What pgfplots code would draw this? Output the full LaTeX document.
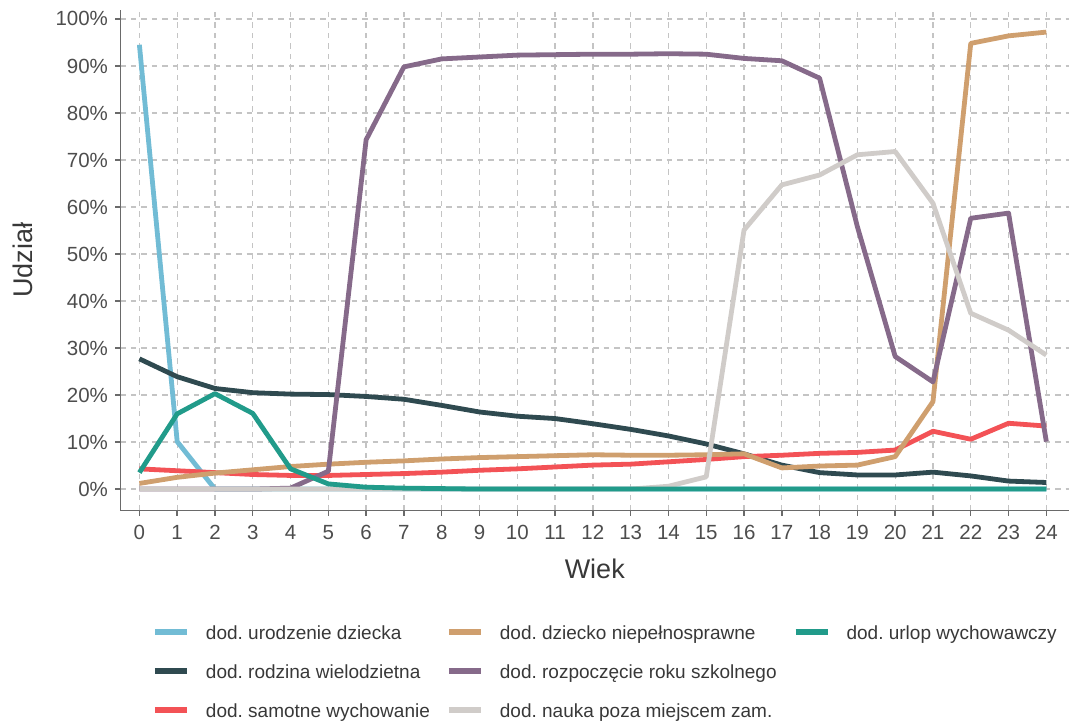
\documentclass[border=0pt]{standalone}
\usepackage{fontspec}
\setmainfont{Liberation Sans}
\usepackage{pgfplots}
\usepackage{pgfplotstable}
\pgfplotsset{compat=1.18}
\frenchspacing

\definecolor{cUrodz}{HTML}{72BCD5}
\definecolor{cRodz}{HTML}{2F4A50}
\definecolor{cSamot}{HTML}{F35256}
\definecolor{cNiep}{HTML}{CF9F6E}
\definecolor{cRozp}{HTML}{866A8A}
\definecolor{cNauka}{HTML}{D0CCC9}
\definecolor{cUrlop}{HTML}{219B8A}
\definecolor{axisgray}{HTML}{6A6A6A}
\definecolor{gridgray}{HTML}{C4C4C4}
\definecolor{tickgray}{HTML}{4D4D4D}
\definecolor{labgray}{HTML}{383838}

% udzial (%) wg wieku dziecka
\pgfplotstableread{
wiek urodz rodz samot niep rozp nauka urlop
0  94.5 27.7  4.3  1.2  0.0  0.0  3.5
1  10.1 23.9  3.9  2.5  0.0  0.0 16.0
2   0.0 21.4  3.5  3.4  0.0  0.0 20.3
3   0.0 20.5  3.1  4.1  0.0  0.0 16.1
4   0.0 20.2  2.9  4.8  0.2  0.0  4.3
5   0.0 20.1  2.9  5.3  3.8  0.0  1.1
6   0.0 19.7  3.1  5.7 74.3  0.0  0.4
7   0.0 19.1  3.3  6.0 89.8  0.0  0.2
8   0.0 17.8  3.6  6.4 91.5  0.0  0.1
9   0.0 16.4  4.0  6.7 91.9  0.0  0.0
10  0.0 15.5  4.3  6.9 92.3  0.0  0.0
11  0.0 15.0  4.7  7.1 92.4  0.0  0.0
12  0.0 13.9  5.1  7.3 92.5  0.0  0.0
13  0.0 12.7  5.3  7.2 92.5  0.0  0.0
14  0.0 11.3  5.8  7.2 92.6  0.6  0.0
15  0.0  9.6  6.3  7.3 92.5  2.6  0.0
16  0.0  7.5  6.9  7.5 91.6 55.1  0.0
17  0.0  5.1  7.2  4.5 91.1 64.7  0.0
18  0.0  3.5  7.6  4.9 87.4 66.8  0.0
19  0.0  3.0  7.8  5.1 55.8 71.1  0.0
20  0.0  3.0  8.3  6.9 28.2 71.8  0.0
21  0.0  3.6 12.3 18.6 22.8 60.8  0.0
22  0.0  2.8 10.6 94.8 57.6 37.4  0.0
23  0.0  1.7 14.0 96.4 58.7 33.8  0.0
24  0.0  1.4 13.4 97.2 10.1 28.5  0.0
}\dane

\begin{document}
\begin{tikzpicture}
\begin{axis}[
  scale only axis,
  width=948.5bp, height=500.7bp,
  xmin=-0.5, xmax=24.6, ymin=-4.6, ymax=101.9,
  axis x line*=bottom, axis y line*=left,
  axis line style={color=axisgray, line width=1.4bp},
  tick style={color=axisgray, line width=1.4bp},
  tick align=outside, major tick length=5bp,
  xtick={0,1,...,24},
  xticklabels={0,1,2,3,4,5,6,7,8,9,10,11,12,13,14,15,16,17,18,19,20,21,22,23,24},
  ytick={0,10,...,100},
  yticklabels={0\%,10\%,20\%,30\%,40\%,50\%,60\%,70\%,80\%,90\%,100\%},
  ticklabel style={font=\fontsize{20.5bp}{24bp}\selectfont, text=tickgray},
  yticklabel style={xshift=-4bp},
  xticklabel style={yshift=-6bp},
  grid=major,
  major grid style={color=gridgray, line width=1.3bp, dash pattern=on 5.5bp off 5bp},
  xlabel={Wiek}, ylabel={Udział},
  xlabel style={font=\fontsize{27bp}{32bp}\selectfont, text=labgray,
    at={(axis description cs:0.5,-0.13501)}, anchor=base},
  ylabel style={font=\fontsize{27bp}{32bp}\selectfont, text=labgray,
    at={(axis description cs:-0.09225,0.5)}, anchor=base},
  every axis plot/.append style={line width=4.8bp, line join=round},
  legend image code/.code={\draw[#1, line width=6bp] (0bp,2bp) -- (32bp,2bp);},
  legend columns=3, legend cell align=left,
  legend style={at={(0,0)}, anchor=north west, xshift=31.5bp, yshift=-114.3bp,
    draw=none, fill=none, inner sep=0pt, outer sep=0pt,
    column sep=16bp, row sep=21bp,
    font=\fontsize{19bp}{22bp}\selectfont, text=labgray,
    nodes={inner xsep=0pt, inner ysep=0pt, text height=14bp, text depth=4bp}},
]
  \addplot[cUrodz, forget plot] table[x=wiek, y=urodz] {\dane};
  \addplot[cRodz, forget plot] table[x=wiek, y=rodz] {\dane};
  \addplot[cSamot, forget plot] table[x=wiek, y=samot] {\dane};
  \addplot[cNiep, forget plot] table[x=wiek, y=niep] {\dane};
  \addplot[cRozp, forget plot] table[x=wiek, y=rozp] {\dane};
  \addplot[cNauka, forget plot] table[x=wiek, y=nauka] {\dane};
  \addplot[cUrlop, forget plot] table[x=wiek, y=urlop] {\dane};

  \addlegendimage{cUrodz}\addlegendentry{dod. urodzenie dziecka}
  \addlegendimage{cNiep}\addlegendentry{dod. dziecko niepełnosprawne}
  \addlegendimage{cUrlop}\addlegendentry{dod. urlop wychowawczy}
  \addlegendimage{cRodz}\addlegendentry{dod. rodzina wielodzietna}
  \addlegendimage{cRozp}\addlegendentry{dod. rozpoczęcie roku szkolnego}
  \addlegendimage{empty legend}\addlegendentry{}
  \addlegendimage{cSamot}\addlegendentry{dod. samotne wychowanie}
  \addlegendimage{cNauka}\addlegendentry{dod. nauka poza miejscem zam.}
\end{axis}
\pgfresetboundingbox
\useasboundingbox (-120.5bp,-212.3bp) rectangle (948.5bp,510.7bp);
\end{tikzpicture}
\end{document}
